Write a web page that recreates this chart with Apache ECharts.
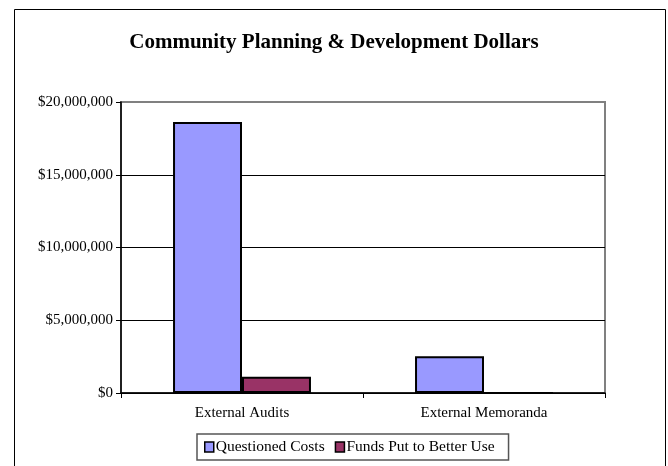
<!DOCTYPE html>
<html><head><meta charset="utf-8">
<script src="https://cdn.jsdelivr.net/npm/echarts@6/dist/echarts.min.js"></script>
<style>html,body{margin:0;padding:0;background:#fff}#c{width:668px;height:466px}</style>
</head><body><div id="c"></div>
<script>
const categories = ['External Audits', 'External Memoranda'];
const questionedCosts = [18620000, 2520000];
const fundsPutToBetterUse = [1120000, 0];
const seriesNames = ['Questioned Costs', 'Funds Put to Better Use'];
const yTicks = [0, 5000000, 10000000, 15000000, 20000000];

function fmt(v){ return '$' + v.toString().replace(/\B(?=(\d{3})+(?!\d))/g, ','); }

const chart = echarts.init(document.getElementById('c'), null, {renderer:'canvas'});
const font = 'Liberation Serif';
chart.setOption({
  backgroundColor: '#fff',
  animation: false,
  title: {
    text: 'Community Planning & Development Dollars',
    left: 'center', top: 27,
    textStyle: {fontFamily: font, fontWeight: 'bold', fontSize: 21, color: '#000'}
  },
  graphic: [{
    type: 'rect', shape: {x: 14.5, y: 9.5, width: 651, height: 500},
    style: {fill: 'none', stroke: '#000', lineWidth: 1}, z: -1
  }],
  grid: {left: 121, right: 63, top: 102, bottom: 73, show: true, borderColor: '#808080', borderWidth: 2, backgroundColor: '#fff'},
  legend: {
    data: seriesNames, left: 197, top: 434,
    icon: 'rect', itemWidth: 9, itemHeight: 10, itemGap: 10,
    padding: [5, 14, 5, 7],
    borderColor: '#555', borderWidth: 1.5,
    textStyle: {fontFamily: font, fontSize: 15.5, color: '#000', padding: [0,0,0,-3]},
    itemStyle: {borderColor: '#000', borderWidth: 1.5}
  },
  xAxis: {
    type: 'category', data: categories,
    axisLine: {lineStyle: {color: '#000', width: 1.5}},
    axisTick: {show: true, length: 5, lineStyle: {color: '#000'}},
    axisLabel: {fontFamily: font, fontSize: 15, color: '#000', margin: 13},
    splitLine: {show: false}
  },
  yAxis: {
    type: 'value', min: yTicks[0], max: yTicks[yTicks.length - 1], interval: yTicks[1] - yTicks[0],
    axisLine: {show: true, lineStyle: {color: '#000', width: 1.5}},
    axisTick: {show: true, length: 5, lineStyle: {color: '#000'}},
    axisLabel: {fontFamily: font, fontSize: 15, color: '#000', margin: 8, formatter: v => fmt(v)},
    splitLine: {show: true, lineStyle: {color: ['#000', '#000', '#000', '#000', '#808080'], width: 1}}
  },
  series: [
    {name: seriesNames[0], type: 'bar', data: questionedCosts, barGap: '0%', barCategoryGap: '43%',
     itemStyle: {color: '#9999FF', borderColor: '#000', borderWidth: 2}},
    {name: seriesNames[1], type: 'bar', data: fundsPutToBetterUse,
     itemStyle: {color: '#993366', borderColor: '#000', borderWidth: 2}}
  ]
});
</script></body></html>
